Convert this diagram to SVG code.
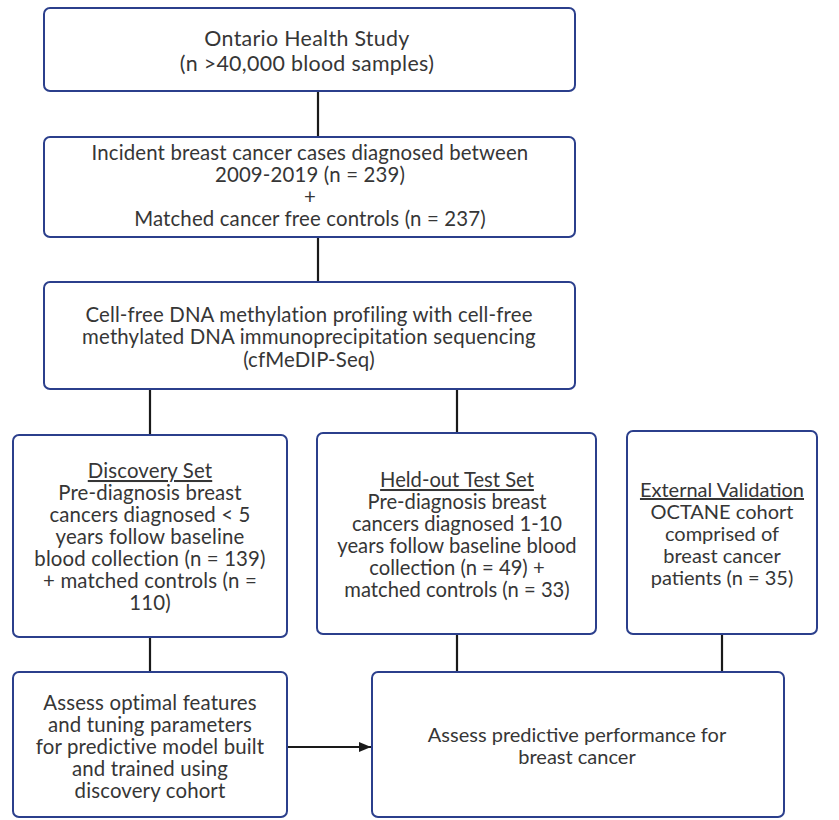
<svg xmlns="http://www.w3.org/2000/svg" width="839" height="820" viewBox="0 0 839 820">
<defs>
<style>
.box{fill:#fff;stroke:#2b3f8c;stroke-width:2}
.t{font-family:Lato,"Open Sans","Liberation Sans",sans-serif;font-size:20px;fill:#363636;text-anchor:middle}
.w{font-size:20.4px;letter-spacing:0.15px}
.big{font-size:21.4px;letter-spacing:0.3px}
.u{text-decoration:underline}
.c{stroke:#1a1a1a;stroke-width:2.2;fill:none}
</style>
<marker id="ah" viewBox="0 0 12 10" refX="12" refY="5" markerWidth="12" markerHeight="10" orient="auto" markerUnits="userSpaceOnUse">
<path d="M0,0 L12,5 L0,10 z" fill="#1a1a1a"/>
</marker>
</defs>
<rect width="839" height="820" fill="#fff"/>
<g id="connectors">
<line class="c" x1="318" y1="91" x2="318" y2="137"/>
<line class="c" x1="318" y1="237" x2="318" y2="282"/>
<line class="c" x1="150" y1="389" x2="150" y2="435"/>
<line class="c" x1="457" y1="389" x2="457" y2="433"/>
<line class="c" x1="150" y1="637" x2="150" y2="672"/>
<line class="c" x1="457" y1="634" x2="457" y2="672"/>
<line class="c" x1="722" y1="634" x2="722" y2="672"/>
<line class="c" x1="288" y1="747" x2="371" y2="747" marker-end="url(#ah)"/>
</g>
<g id="ontario">
<rect class="box" x="44" y="8" width="531" height="83" rx="6"/>
<text class="t big" x="307" y="46">Ontario Health Study</text>
<text class="t big" x="307" y="71">(n &gt;40,000 blood samples)</text>
</g>
<g id="incident">
<rect class="box" x="44" y="137" width="531" height="100" rx="6"/>
<text class="t w" x="310" y="160">Incident breast cancer cases diagnosed between</text>
<text class="t w" x="310" y="182">2009-2019 (n = 239)</text>
<text class="t w" x="310" y="204">+</text>
<text class="t w" x="310" y="226">Matched cancer free controls (n  = 237)</text>
</g>
<g id="cfmedip">
<rect class="box" x="44" y="282" width="531" height="107" rx="6"/>
<text class="t w" x="309" y="322">Cell-free DNA methylation profiling with cell-free</text>
<text class="t w" x="309" y="344">methylated DNA immunoprecipitation sequencing</text>
<text class="t w" x="309" y="367">(cfMeDIP-Seq)</text>
</g>
<g id="discovery">
<rect class="box" x="13" y="435" width="274" height="202" rx="6"/>
<text class="t w" x="150" y="478"><tspan class="u">Discovery Set</tspan></text>
<text class="t w" x="150" y="500">Pre-diagnosis breast</text>
<text class="t w" x="150" y="522">cancers diagnosed &lt; 5</text>
<text class="t w" x="150" y="544">years follow baseline</text>
<text class="t w" x="150" y="566">blood collection (n = 139)</text>
<text class="t w" x="150" y="588">+ matched controls (n =</text>
<text class="t w" x="150" y="610">110)</text>
</g>
<g id="heldout">
<rect class="box" x="317" y="433" width="279" height="201" rx="6"/>
<text class="t" x="457" y="487" style="font-size:20.2px"><tspan class="u">Held-out Test Set</tspan></text>
<text class="t" x="457" y="509" style="font-size:20.2px">Pre-diagnosis breast</text>
<text class="t" x="457" y="531" style="font-size:20.2px">cancers diagnosed 1-10</text>
<text class="t" x="457" y="553" style="font-size:20.2px">years follow baseline blood</text>
<text class="t" x="457" y="575" style="font-size:20.2px">collection (n = 49) +</text>
<text class="t" x="457" y="597" style="font-size:20.2px">matched controls (n = 33)</text>
</g>
<g id="external">
<rect class="box" x="627" y="431" width="190" height="203" rx="6"/>
<text class="t" x="722" y="497"><tspan class="u">External Validation</tspan></text>
<text class="t" x="722" y="519">OCTANE cohort</text>
<text class="t" x="722" y="541">comprised of</text>
<text class="t" x="722" y="563">breast cancer</text>
<text class="t" x="722" y="585">patients (n = 35)</text>
</g>
<g id="assess-features">
<rect class="box" x="13" y="672" width="274" height="145" rx="6"/>
<text class="t w" x="150" y="710">Assess optimal features</text>
<text class="t w" x="150" y="732">and tuning parameters</text>
<text class="t w" x="150" y="754">for predictive model built</text>
<text class="t w" x="150" y="776">and trained using</text>
<text class="t w" x="150" y="798">discovery cohort</text>
</g>
<g id="assess-performance">
<rect class="box" x="372" y="672" width="412" height="145" rx="6"/>
<text class="t" x="577" y="742">Assess predictive performance for</text>
<text class="t" x="577" y="764">breast cancer</text>
</g>
</svg>
